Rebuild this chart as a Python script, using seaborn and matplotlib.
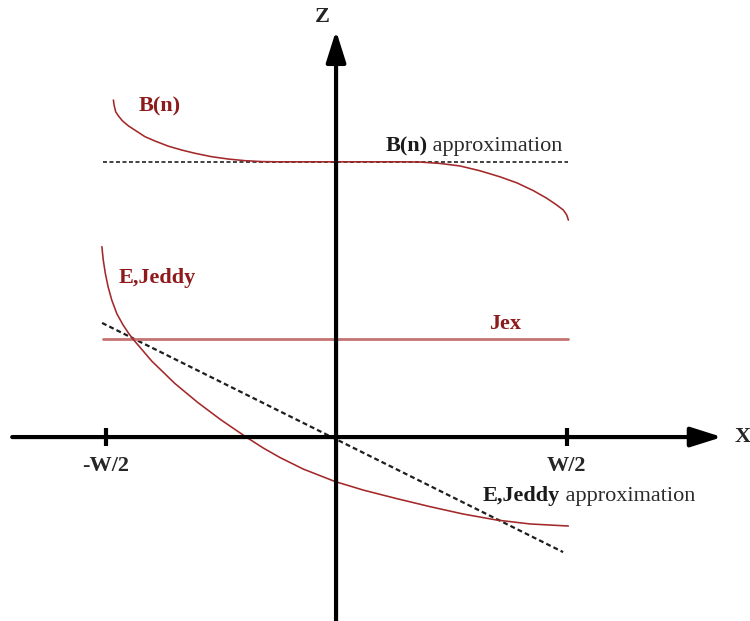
import matplotlib
matplotlib.use("Agg")
import matplotlib.pyplot as plt
import seaborn as sns
import pandas as pd

# Coordinates are in units of W/2 (x = +-1 at the plate edges)
bn_x = [-0.966, -0.963, -0.956, -0.944, -0.927, -0.901, -0.872, -0.829, -0.785,
        -0.728, -0.669, -0.612, -0.539, -0.467, -0.395, -0.322, -0.250, 0.0,
        0.278, 0.364, 0.451, 0.538, 0.625, 0.711, 0.784, 0.856, 0.914, 0.957,
        0.986, 1.001, 1.008]
bn_y = [1.462, 1.440, 1.411, 1.393, 1.372, 1.350, 1.331, 1.303, 1.284,
        1.262, 1.245, 1.231, 1.216, 1.206, 1.199, 1.195, 1.194, 1.194,
        1.194, 1.193, 1.187, 1.176, 1.155, 1.129, 1.103, 1.069, 1.036, 1.007,
        0.985, 0.963, 0.941]

bn_approx_x = [-1.011, 1.007]
bn_approx_y = [1.195, 1.195]

ej_x = [-1.016, -1.010, -1.001, -0.989, -0.973, -0.951, -0.925, -0.900, -0.881,
        -0.800, -0.700, -0.600, -0.500, -0.390, -0.315, -0.243, -0.142, -0.004,
        0.118, 0.263, 0.408, 0.552, 0.697, 0.842, 1.008]
ej_y = [0.826, 0.768, 0.710, 0.652, 0.594, 0.535, 0.488, 0.450, 0.425,
        0.330, 0.233, 0.150, 0.075, 0.0, -0.048, -0.089, -0.139, -0.193,
        -0.230, -0.267, -0.302, -0.334, -0.360, -0.377, -0.386]

ej_approx_x = [-1.015, 0.985]
ej_approx_y = [0.495, -0.499]

jex_x = [-1.011, 1.007]
jex_y = [0.427, 0.427]

tick_pos = [-1.0, 1.0]
tick_labels = ["-W/2", "W/2"]

sns.set_theme(style="white")
plt.rcParams["font.family"] = ["Liberation Serif", "DejaVu Serif"]

CURVE = "#a3282a"
LABEL = "#8e1a1c"
JEX = "#c47373"
DASH = "#1e1e1e"

fig = plt.figure(figsize=(7.5, 6.21), dpi=100)
ax = fig.add_axes([0, 0, 1, 1])

# coordinate axes with arrowheads
arrow = dict(arrowstyle="-|>,head_length=0.95,head_width=0.3", lw=3,
             color="black", mutation_scale=20, shrinkA=0, shrinkB=0)
ax.annotate("", xy=(1.675, 0), xytext=(-1.405, 0), arrowprops=arrow, zorder=3)
ax.annotate("", xy=(0, 1.763), xytext=(0, -0.80), arrowprops=arrow, zorder=3)
for t in tick_pos:
    ax.plot([t, t], [-0.04, 0.04], color="black", lw=3, solid_capstyle="butt", zorder=3)
for t, lab in zip(tick_pos, tick_labels):
    ax.text(t, -0.126, lab, ha="center", va="center", fontsize=16, fontweight="bold")
ax.text(1.765, 0, "X", ha="center", va="center", fontsize=16, fontweight="bold")
ax.text(-0.061, 1.822, "Z", ha="center", va="center", fontsize=16, fontweight="bold")

# curves
dash_style = (0, (2.2, 1.4))
sns.lineplot(data=pd.DataFrame({"x": bn_approx_x, "y": bn_approx_y}), x="x", y="y",
             ax=ax, color="#333333", lw=1.3, linestyle=dash_style, sort=False, estimator=None)
sns.lineplot(data=pd.DataFrame({"x": ej_approx_x, "y": ej_approx_y}), x="x", y="y",
             ax=ax, color=DASH, lw=1.6, linestyle=dash_style, sort=False, estimator=None)
sns.lineplot(data=pd.DataFrame({"x": jex_x, "y": jex_y}), x="x", y="y",
             ax=ax, color=JEX, lw=2.0, sort=False, estimator=None)
sns.lineplot(data=pd.DataFrame({"x": bn_x, "y": bn_y}), x="x", y="y",
             ax=ax, color=CURVE, lw=1.15, sort=False, estimator=None)
sns.lineplot(data=pd.DataFrame({"x": ej_x, "y": ej_y}), x="x", y="y",
             ax=ax, color=CURVE, lw=1.15, sort=False, estimator=None)
for line in ax.lines:
    line.set_solid_joinstyle("round")
ax.set_xlim(-1.458, 1.796)
ax.set_ylim(-0.798, 1.896)
ax.axis("off")

# labels
ax.text(-0.764, 1.432, "B(n)", ha="center", va="center", fontsize=16,
        fontweight="bold", color=LABEL)
ax.text(-0.777, 0.690, "E,Jeddy", ha="center", va="center", fontsize=16,
        fontweight="bold", color=LABEL)
ax.text(0.733, 0.490, "Jex", ha="center", va="center", fontsize=16,
        fontweight="bold", color=LABEL)

b_lab = ax.text(0.213, 1.262, "B(n)", ha="left", va="center", fontsize=16,
                fontweight="bold", color="#1a1a1a")
ax.annotate(" approximation", xy=(1, 0), xycoords=b_lab, ha="left", va="bottom",
            fontsize=16, color="#2a2a2a")
e_lab = ax.text(0.638, -0.256, "E,Jeddy", ha="left", va="center", fontsize=16,
                fontweight="bold", color="#1a1a1a")
ax.annotate(" approximation", xy=(1, 0), xycoords=e_lab, ha="left", va="bottom",
            fontsize=16, color="#2a2a2a")

fig.savefig("out.png", dpi=100)
